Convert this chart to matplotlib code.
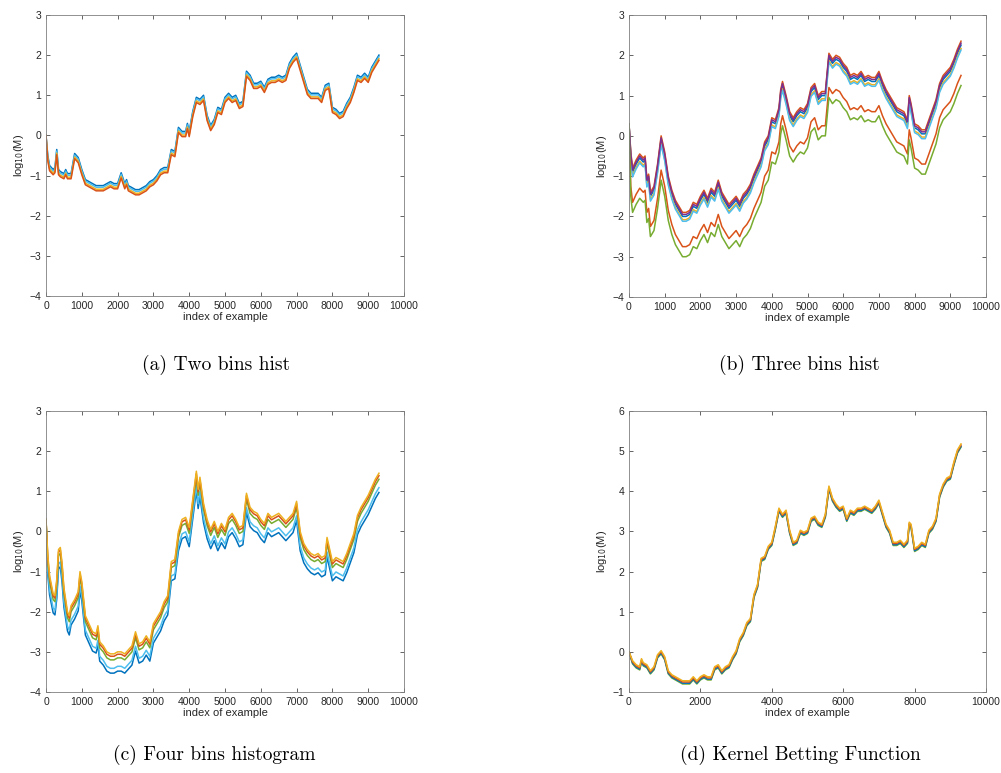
import numpy as np
import matplotlib
matplotlib.use("Agg")
import matplotlib.pyplot as plt

# MATLAB default line colours
blue = '#0072BD'
orange = '#D95319'
yellow = '#EDB120'
purple = '#7E2F8E'
green = '#77AC30'
lblue = '#4DBEEE'
dred = '#A2142F'

# ---------------- panel (a): two bins hist ----------------
xa = [0, 50, 100, 200, 250, 300, 350, 400, 500, 550, 600, 700, 800, 900, 1000,
      1100, 1200, 1300, 1400, 1500, 1600, 1700, 1800, 1900, 2000, 2100, 2200,
      2250, 2300, 2400, 2500, 2600, 2700, 2800, 2900, 3000, 3100, 3200, 3300,
      3400, 3500, 3600, 3700, 3800, 3900, 3950, 4000, 4100, 4200, 4300, 4400,
      4500, 4600, 4700, 4800, 4900, 5000, 5100, 5200, 5300, 5400, 5500, 5600,
      5700, 5800, 5900, 6000, 6100, 6200, 6300, 6400, 6500, 6600, 6700, 6800,
      6900, 7000, 7100, 7200, 7300, 7400, 7500, 7600, 7700, 7800, 7900, 8000,
      8100, 8200, 8300, 8400, 8500, 8600, 8700, 8800, 8900, 9000, 9100, 9200, 9300]
ya = [0.0, -0.5, -0.75, -0.85, -0.8, -0.35, -0.85, -0.9, -0.95, -0.85, -0.95,
      -0.95, -0.45, -0.55, -0.85, -1.1, -1.15, -1.2, -1.25, -1.25, -1.25, -1.2,
      -1.15, -1.2, -1.2, -0.93, -1.2, -1.1, -1.25, -1.3, -1.35, -1.35, -1.3,
      -1.25, -1.15, -1.1, -1.0, -0.85, -0.8, -0.8, -0.35, -0.4, 0.2, 0.1, 0.1,
      0.3, 0.1, 0.6, 0.95, 0.9, 1.0, 0.5, 0.25, 0.4, 0.7, 0.65, 0.95, 1.05, 0.95,
      1.0, 0.8, 0.85, 1.6, 1.5, 1.3, 1.3, 1.35, 1.2, 1.4, 1.45, 1.45, 1.5, 1.45,
      1.5, 1.8, 1.95, 2.05, 1.75, 1.45, 1.15, 1.05, 1.05, 1.05, 0.95, 1.25, 1.3,
      0.7, 0.65, 0.55, 0.6, 0.8, 0.95, 1.2, 1.5, 1.45, 1.55, 1.45, 1.7, 1.85, 2.0]
off_a = [0.0, -0.04, -0.09, -0.13]
col_a = [blue, lblue, yellow, orange]

# ---------------- panel (b): three bins hist ----------------
xb = [0, 50, 100, 200, 300, 400, 450, 500, 550, 600, 700, 800, 900, 1000, 1100,
      1200, 1300, 1400, 1500, 1600, 1700, 1800, 1900, 2000, 2100, 2200, 2300,
      2400, 2500, 2600, 2700, 2800, 2900, 3000, 3100, 3200, 3300, 3400, 3500,
      3600, 3700, 3800, 3900, 4000, 4100, 4200, 4250, 4300, 4400, 4500, 4600,
      4700, 4800, 4900, 5000, 5100, 5200, 5300, 5400, 5500, 5600, 5700, 5800,
      5900, 6000, 6100, 6200, 6300, 6400, 6500, 6600, 6700, 6800, 6900, 7000,
      7100, 7200, 7300, 7400, 7500, 7600, 7700, 7800, 7850, 7900, 8000, 8100,
      8200, 8300, 8400, 8500, 8600, 8700, 8800, 8900, 9000, 9100, 9200, 9300]
yb = [0.3, -0.5, -0.9, -0.7, -0.55, -0.65, -0.6, -1.15, -1.05, -1.5, -1.35,
      -0.8, -0.1, -0.5, -1.1, -1.45, -1.7, -1.85, -2.0, -2.0, -1.95, -1.75, -1.8,
      -1.6, -1.45, -1.65, -1.4, -1.5, -1.2, -1.5, -1.65, -1.8, -1.7, -1.6, -1.75,
      -1.55, -1.45, -1.3, -1.05, -0.85, -0.65, -0.25, -0.1, 0.35, 0.3, 0.6, 1.05,
      1.25, 0.9, 0.5, 0.35, 0.5, 0.6, 0.55, 0.7, 1.1, 1.2, 0.9, 1.0, 1.0, 1.95,
      1.8, 1.9, 1.85, 1.7, 1.6, 1.4, 1.45, 1.4, 1.5, 1.35, 1.4, 1.35, 1.35, 1.5,
      1.25, 1.05, 0.9, 0.75, 0.6, 0.55, 0.5, 0.3, 0.9, 0.7, 0.2, 0.15, 0.05, 0.05,
      0.3, 0.55, 0.8, 1.2, 1.4, 1.5, 1.6, 1.8, 2.05, 2.25]
off_b = [0.0, -0.08, 0.1, -0.12, -0.75, 0.05, -1.0]
col_b = [blue, yellow, orange, lblue, orange, purple, green]

# ---------------- panel (c): four bins histogram ----------------
xc = [0, 50, 100, 200, 250, 300, 350, 400, 450, 500, 600, 650, 700, 800, 900,
      950, 1000, 1100, 1200, 1300, 1400, 1450, 1500, 1600, 1700, 1800, 1900,
      2000, 2100, 2200, 2300, 2400, 2500, 2600, 2700, 2800, 2900, 3000, 3100,
      3200, 3300, 3400, 3500, 3600, 3700, 3800, 3900, 4000, 4100, 4200, 4250,
      4300, 4400, 4500, 4600, 4700, 4800, 4900, 5000, 5100, 5200, 5300, 5400,
      5500, 5600, 5700, 5800, 5900, 6000, 6100, 6200, 6300, 6400, 6500, 6600,
      6700, 6800, 6900, 7000, 7100, 7200, 7300, 7400, 7500, 7600, 7700, 7800,
      7850, 7900, 8000, 8100, 8200, 8300, 8400, 8500, 8600, 8700, 8800, 8900,
      9000, 9100, 9200, 9300]
yc = [0.3, -0.6, -1.1, -1.55, -1.6, -1.2, -0.45, -0.4, -0.8, -1.4, -2.0, -2.1,
      -1.85, -1.7, -1.5, -1.0, -1.25, -2.1, -2.3, -2.5, -2.55, -2.35, -2.75,
      -2.85, -3.0, -3.05, -3.05, -3.0, -3.0, -3.05, -2.95, -2.85, -2.5, -2.8,
      -2.75, -2.6, -2.75, -2.3, -2.15, -2.0, -1.75, -1.6, -0.75, -0.7, 0.0, 0.3,
      0.35, 0.1, 0.8, 1.5, 1.05, 1.35, 0.7, 0.3, 0.05, 0.25, 0.0, 0.2, 0.05, 0.35,
      0.45, 0.3, 0.1, 0.15, 0.95, 0.6, 0.5, 0.45, 0.3, 0.2, 0.45, 0.35, 0.4, 0.45,
      0.35, 0.25, 0.35, 0.45, 0.75, 0.0, -0.3, -0.45, -0.55, -0.6, -0.55, -0.65,
      -0.6, -0.15, -0.35, -0.75, -0.65, -0.7, -0.75, -0.55, -0.3, -0.05, 0.4, 0.6,
      0.75, 0.9, 1.1, 1.3, 1.45]
off_c = [-0.48, -0.36, -0.15, -0.06, 0.0]
col_c = [blue, lblue, green, orange, yellow]

# ---------------- panel (d): kernel betting function ----------------
xd = [0, 100, 200, 300, 350, 400, 500, 600, 700, 800, 900, 1000, 1100, 1200,
      1300, 1400, 1500, 1600, 1700, 1800, 1900, 2000, 2100, 2200, 2300, 2400,
      2500, 2600, 2700, 2800, 2900, 3000, 3100, 3200, 3300, 3400, 3500, 3600,
      3700, 3800, 3900, 4000, 4100, 4200, 4300, 4400, 4500, 4600, 4700, 4800,
      4900, 5000, 5100, 5200, 5300, 5400, 5500, 5600, 5700, 5800, 5900, 6000,
      6100, 6200, 6300, 6400, 6500, 6600, 6700, 6800, 6900, 7000, 7100, 7200,
      7300, 7400, 7500, 7600, 7700, 7800, 7850, 7900, 8000, 8100, 8200, 8300,
      8400, 8500, 8600, 8700, 8800, 8900, 9000, 9100, 9200, 9300]
yd = [0.0, -0.25, -0.35, -0.4, -0.2, -0.3, -0.35, -0.5, -0.4, -0.1, 0.0, -0.15,
      -0.5, -0.6, -0.65, -0.7, -0.75, -0.75, -0.75, -0.65, -0.75, -0.65, -0.6,
      -0.65, -0.65, -0.4, -0.35, -0.5, -0.4, -0.35, -0.15, 0.0, 0.3, 0.45, 0.7,
      0.8, 1.4, 1.65, 2.3, 2.35, 2.6, 2.7, 3.1, 3.55, 3.4, 3.5, 3.0, 2.7, 2.75,
      3.0, 2.95, 3.0, 3.3, 3.35, 3.2, 3.15, 3.4, 4.1, 3.8, 3.65, 3.55, 3.6, 3.3,
      3.5, 3.45, 3.55, 3.55, 3.6, 3.55, 3.5, 3.6, 3.75, 3.45, 3.15, 3.0, 2.7, 2.7,
      2.75, 2.65, 2.75, 3.2, 3.15, 2.55, 2.6, 2.7, 2.65, 3.0, 3.1, 3.3, 3.9, 4.15,
      4.3, 4.35, 4.7, 5.0, 5.15]
off_d = [-0.05, -0.03, 0.0, 0.03]
col_d = [green, blue, orange, yellow]

captions = ['(a) Two bins hist', '(b) Three bins hist',
            '(c) Four bins histogram', '(d) Kernel Betting Function']

fig = plt.figure(figsize=(10.01, 7.73), dpi=100)
W, H = 1001.0, 773.0

def make_ax(l, t, r, b):
    return fig.add_axes([l / W, 1 - b / H, (r - l) / W, (b - t) / H])

axes = [make_ax(46, 15, 404, 296), make_ax(629, 15, 986, 297),
        make_ax(46, 411, 404, 692), make_ax(629, 411, 986, 692)]

panels = [(xa, ya, off_a, col_a), (xb, yb, off_b, col_b),
          (xc, yc, off_c, col_c), (xd, yd, off_d, col_d)]

for ax, (x, y, offs, cols) in zip(axes, panels):
    x = np.array(x)
    y = np.array(y)
    for o, c in zip(offs, cols):
        yy = y + o
        yy[0] = y[0]
        ax.plot(x, yy, color=c, lw=1.1)

for i, ax in enumerate(axes):
    ax.set_xlim(0, 10000)
    if i == 3:
        ax.set_ylim(-1, 6)
        ax.set_xticks(range(0, 10001, 2000))
    else:
        ax.set_ylim(-4, 3)
        ax.set_xticks(range(0, 10001, 1000))
    for s in ax.spines.values():
        s.set_color('#7f7f7f')
        s.set_linewidth(0.6)
    ax.tick_params(direction='in', length=3, width=0.5, top=True, right=True,
                   colors='#262626', labelsize=7.5)
    for lab in ax.get_xticklabels() + ax.get_yticklabels():
        lab.set_fontfamily('Liberation Sans')
    ax.set_xlabel('index of example', fontsize=8, family='Liberation Sans',
                  color='#262626', labelpad=1)
    ax.set_ylabel('log$_{10}$(M)', fontsize=8, family='Liberation Sans',
                  color='#262626', labelpad=2)

cap_pos = [(216, 365), (799, 365), (214, 755), (800, 755)]
for (cx, cy), txt in zip(cap_pos, captions):
    fig.text(cx / W, 1 - cy / H, txt, ha='center', va='center', fontsize=14,
             family='cmr10')

fig.savefig('out.png', dpi=100)
